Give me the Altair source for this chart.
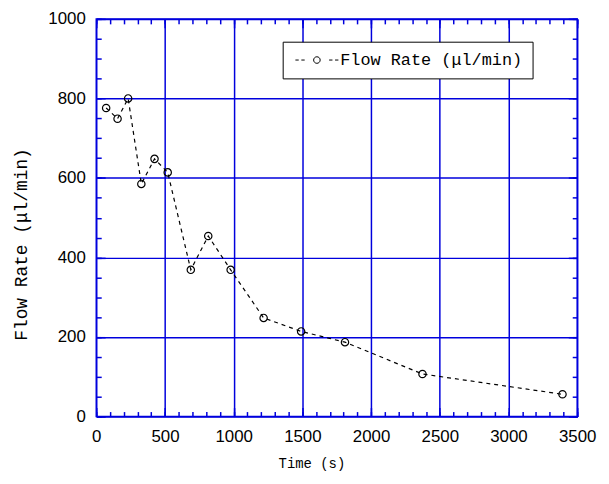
import altair as alt
import pandas as pd

# ---- data ----
time_s = [72, 155, 232, 328, 424, 520, 688, 815, 978, 1218, 1491, 1810, 2374, 3393]
flow_rate = [776, 749, 800, 585, 648, 614, 369, 454, 369, 248, 214, 187, 107, 56]
series_name = "Flow Rate (μl/min)"
x_title = "Time (s)"
y_title = "Flow Rate (μl/min)"
x_major = [0, 500, 1000, 1500, 2000, 2500, 3000, 3500]
x_minor = list(range(0, 3501, 100))
y_major = [0, 200, 400, 600, 800, 1000]
y_minor = list(range(0, 1001, 50))

df = pd.DataFrame({"t": time_s, "q": flow_rate, "s": [series_name] * len(time_s)})

BLUE = "#0000DD"
MONO = "Liberation Mono"
SANS = "Liberation Sans"

xscale = alt.Scale(domain=[0, 3500], nice=False, zero=False)
yscale = alt.Scale(domain=[0, 1000], nice=False, zero=False)

LEG_PATH = ("M-5.42,0H-4.58M-3.92,0H-3.08M3.08,0H3.92M4.58,0H5.42"
            "M0.825,0A0.825,0.825,0,1,1,-0.825,0A0.825,0.825,0,1,1,0.825,0Z")

legend = alt.Legend(
    orient="none", legendX=188, legendY=23, title=None,
    symbolType=LEG_PATH, symbolSize=64, symbolStrokeWidth=1,
    symbolStrokeColor="black", symbolFillColor="transparent",
    symbolOffset=16, labelOffset=15, labelLimit=400,
    labelFont=MONO, labelFontSize=17, labelColor="black",
    strokeColor="black", fillColor="white", padding=10,
)

color = alt.Color("s:N", scale=alt.Scale(range=["black"]), legend=legend)

main_x_axis = alt.Axis(
    orient="bottom", values=x_major, format="d", grid=True, gridColor=BLUE, gridWidth=1.5,
    gridOpacity=1, ticks=False, tickSize=0, domain=False,
    labelFont=SANS, labelFontSize=17, labelColor="black", labelPadding=12,
    labelFlush=False, labelOverlap=False,
    title=x_title, titleFont=MONO, titleFontSize=14, titleFontWeight="normal",
    titleColor="black", titleX=217, titleY=47, titleBaseline="middle", titleAlign="center",
)
main_y_axis = alt.Axis(
    orient="left", values=y_major, format="d", grid=True, gridColor=BLUE, gridWidth=1.5,
    gridOpacity=1, ticks=False, tickSize=0, domain=False,
    labelFont=SANS, labelFontSize=17, labelColor="black", labelPadding=11,
    labelFlush=False, labelOverlap=False,
    title=y_title, titleFont=MONO, titleFontSize=18, titleFontWeight="normal",
    titleColor="black", titleX=-75, titleY=227, titleAngle=270,
    titleBaseline="middle", titleAlign="center",
)

line = alt.Chart(df).mark_line(strokeDash=[4, 4], strokeWidth=1.2).encode(
    x=alt.X("t:Q", scale=xscale, axis=main_x_axis),
    y=alt.Y("q:Q", scale=yscale, axis=main_y_axis),
    color=color,
)
points = alt.Chart(df).mark_point(shape="circle", size=55, filled=False,
                                  strokeWidth=1.2, opacity=1).encode(
    x=alt.X("t:Q", scale=xscale, axis=None),
    y=alt.Y("q:Q", scale=yscale, axis=None),
    color=color,
)


def tick_axis(orient, length, vals):
    return alt.Axis(orient=orient, values=vals, offset=-length, tickSize=length,
                    tickColor=BLUE, tickWidth=1.5, ticks=True, domain=False,
                    labels=False, grid=False, title="")


def tick_layer(xo, yo, length, xv, yv):
    return alt.Chart(df).mark_point(opacity=0).encode(
        x=alt.X("t:Q", scale=xscale, axis=tick_axis(xo, length, xv)),
        y=alt.Y("q:Q", scale=yscale, axis=tick_axis(yo, length, yv)),
    )


layers = [
    tick_layer("bottom", "left", 9, x_major, y_major),
    tick_layer("bottom", "left", 5, x_minor, y_minor),
    tick_layer("top", "right", 9, x_major, y_major),
    tick_layer("top", "right", 5, x_minor, y_minor),
    line,
    points,
]

chart = alt.layer(*layers).resolve_axis(x="independent", y="independent").properties(
    width=485, height=401,
    autosize=alt.AutoSizeParams(type="none"),
    padding={"left": 89, "top": 9, "right": 24, "bottom": 60},
).configure_view(stroke=BLUE, strokeWidth=1.5)

chart.save("out.html", embed_options={"renderer": "svg", "actions": False})
